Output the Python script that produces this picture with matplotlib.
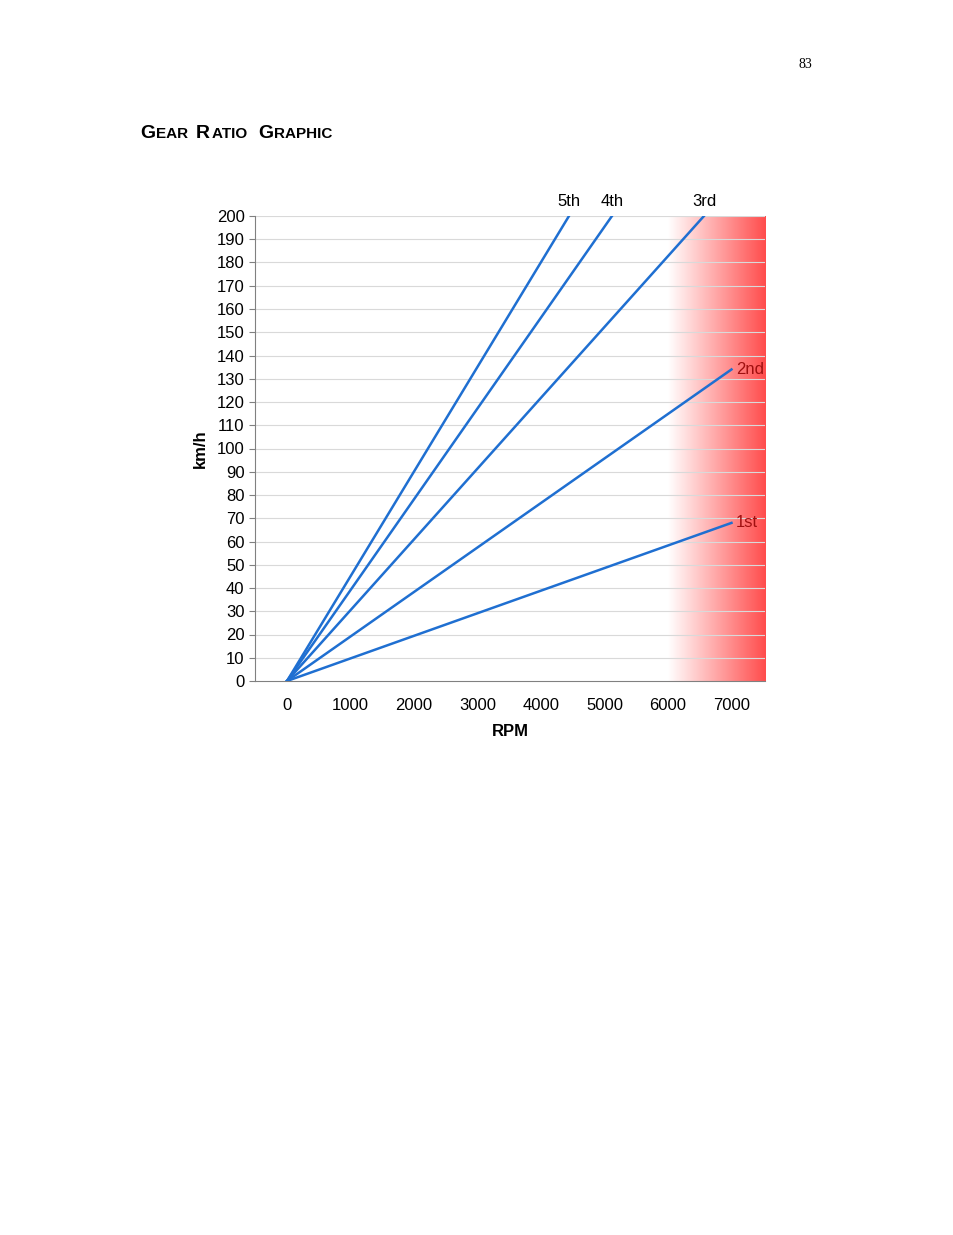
import numpy as np
import matplotlib.pyplot as plt
from matplotlib.colors import LinearSegmentedColormap

W, H = 954, 1235
gears = ["1st", "2nd", "3rd", "4th", "5th"]
end_rpm = [7000, 7000, 6567, 5118, 4441]
end_kmh = [68, 134, 200, 200, 200]
yticks = list(range(0, 201, 10))
xticks = [0, 1000, 2000, 3000, 4000, 5000, 6000, 7000]

fig = plt.figure(figsize=(W / 100, H / 100), dpi=100)
fig.text(805 / W, 1 - 64 / H, "83", fontsize=10, family="Liberation Serif", ha="center", va="center")
fig.text(140 / W, 1 - 134 / H, "G", fontsize=14, weight="bold", family="Liberation Sans", va="center")
fig.text(156 / W, 1 - 134 / H, "EAR ", fontsize=11, weight="bold", family="Liberation Sans", va="center")
fig.text(196 / W, 1 - 134 / H, "R", fontsize=14, weight="bold", family="Liberation Sans", va="center")
fig.text(212 / W, 1 - 134 / H, "ATIO ", fontsize=11, weight="bold", family="Liberation Sans", va="center")
fig.text(258 / W, 1 - 134 / H, "G", fontsize=14, weight="bold", family="Liberation Sans", va="center")
fig.text(274 / W, 1 - 134 / H, "RAPHIC", fontsize=11, weight="bold", family="Liberation Sans", va="center")

ax = fig.add_axes([255 / W, 1 - 681 / H, 510 / W, 465 / H])
xmin, xmax = -504, 7528
ax.set_xlim(xmin, xmax)
ax.set_ylim(0, 200)

# red redline zone gradient
cmap = LinearSegmentedColormap.from_list("red", [(1, 1, 1, 1), (1, 0.3, 0.3, 1)])
grad = np.linspace(0, 1, 256).reshape(1, -1)
ax.imshow(grad, cmap=cmap, extent=[6000, xmax, 0, 200], aspect="auto", zorder=0)

for y in yticks[1:]:
    ax.axhline(y, color="#d9d9d9", lw=0.8, zorder=1)

for g, r, k in zip(gears, end_rpm, end_kmh):
    ax.plot([0, r], [0, k], color="#1f6fd1", lw=1.8, zorder=3)
    if k >= 200:
        ax.text(r, 203, g, ha="center", va="bottom", fontsize=12, family="Liberation Sans", clip_on=False)
    else:
        ax.text(r + 70, k, g, ha="left", va="center", fontsize=12, color="#a01010", family="Liberation Sans")

ax.set_xticks(xticks)
ax.set_yticks(yticks)
ax.tick_params(axis="x", length=0, pad=12, labelsize=12)
ax.tick_params(axis="y", length=4, color="#808080", labelsize=12)
for lab in ax.get_xticklabels() + ax.get_yticklabels():
    lab.set_family("Liberation Sans")
for s in ["top", "right"]:
    ax.spines[s].set_visible(False)
ax.spines["left"].set_color("#808080")
ax.spines["bottom"].set_color("#808080")
ax.set_xlabel("RPM", fontsize=12, weight="bold", family="Liberation Sans", labelpad=8)
ax.set_ylabel("km/h", fontsize=12, weight="bold", family="Liberation Sans", labelpad=6)

fig.savefig("out.png", dpi=100)
